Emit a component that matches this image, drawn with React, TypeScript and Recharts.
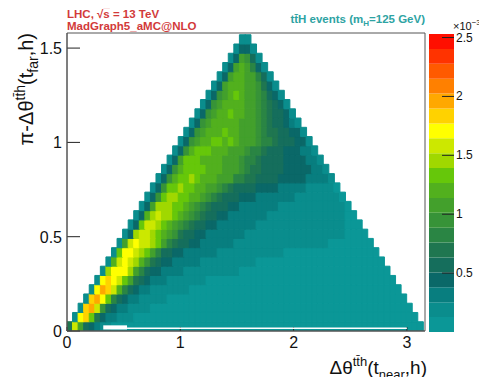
import React from 'react'
import { BarChart, Bar, Cell, XAxis, YAxis, ReferenceArea } from 'recharts'

// ROOT style colour palette, 20 contour levels, lowest first
const palette = [
  '#0b9797', '#0a8d8d', '#087e7f', '#0a6868', '#156e5c',
  '#1f7650', '#2a8544', '#379338', '#43a02c', '#52b01e',
  '#66c70a', '#a0d800', '#cce800', '#ffff00', '#ffd200',
  '#ffa800', '#ff8000', '#ff5a00', '#ff3300', '#ff0f00',
]
const levelKeys = '0123456789abcdefghij'

const zMax = 2.53 // x10^-3
const zTicks = [0.5, 1, 1.5, 2, 2.5]

const nBinsX = 64
const binWidth = Math.PI / nBinsX
const xDomain = [0, 3.16]
const yDomain = [0, 1.58]
const xTicks = [0, 1, 2, 3]
const yTicks = [0, 0.5, 1, 1.5]

// colour level of every filled bin, top row first.
// each row starts at the bin sitting on the x = y diagonal
const binLevels = [
  '11',
  '1331',
  '138741',
  '13898631',
  '1389988641',
  '138999887531',
  '13789a98876431',
  '1378999988765431',
  '137899a99887654431',
  '13789999988876544321',
  '1378999a99888765544331',
  '137899aa9a98887665444331',
  '1379aaa9998887665444333221',
  '138aaa9999888766544443333221',
  '1379aaaa9998887655444433333221',
  '1379aaba999888665544443333322221',
  '137aabaa99' + '8876544443' + '3332222211' + '1110',
  '137abbaa99' + '8765444333' + '2222222111' + '111110',
  '138bbbaa98' + '7654443322' + '2222211111' + '11111110',
  '139bcbba98' + '7654433222' + '2222111111' + '1111111100',
  '13accba987' + '6544332222' + '2221111111' + '1111111110' + '00',
  '13bccba987' + '5443322222' + '2211111111' + '1111111111' + '0000',
  '18cdccba86' + '5443322222' + '2111111111' + '1111111100' + '000000',
  '1addcba864' + '4332222221' + '1111111111' + '1000000000' + '00000000',
  '19cdcb9754' + '3322222111' + '1111111000' + '0000000000' + '0000000000',
  '1bdddb8643' + '3222211111' + '1111100000' + '0000000000' + '0000000000' + '00',
  '1dedca8543' + '2221111111' + '0000000000' + '0000000000' + '0000000000' + '0000',
  '1dfec96432' + '2111111100' + '0000000000' + '0000000000' + '0000000000' + '000000',
  '1efda64322' + '1111100000' + '0000000000' + '0000000000' + '0000000000' + '00000000',
  '1efc743221' + '1110000000' + '0000000000' + '0000000000' + '0000000000' + '0000000000',
  '1dea532211' + '1000000000' + '0000000000' + '0000000000' + '0000000000' + '0000000000' + '00',
  '5c84321100' + '0000000000' + '0000000000' + '0000000000' + '0000000000' + '0000000000' + '0000',
]

// empty bins close to the x axis (white strip)
const emptyStrips = [
  { x1: 0.32, x2: 0.53, y1: 0.008, y2: 0.03 },
  { x1: 0.53, x2: 3.0, y1: 0.01, y2: 0.018 },
]

const nRows = binLevels.length

const levelOf = (r: number, c: number): number | null => {
  const row = binLevels[nRows - 1 - r]
  if (c < r) return null
  const ch = row[c - r]
  if (!ch) return null
  return levelKeys.indexOf(ch)
}

const columns = Array.from({ length: nBinsX }, (_, c) => {
  const col: Record<string, number | null> = { x: (c + 0.5) * binWidth }
  for (let r = 0; r < nRows; r++) col[`r${r}`] = levelOf(r, c) === null ? null : binWidth
  return col
})

const colorBarData = [
  palette.reduce((acc: Record<string, any>, _, k) => {
    acc[`z${k}`] = zMax / palette.length
    return acc
  }, { name: 'z' }),
]

const axisColor = '#555'
const red = '#d23a3a'
const teal = '#2ea3a3'

const XTick = (p: any) => (
  <g>
    <line x1={p.x} x2={p.x} y1={p.y} y2={p.y - 4} stroke="#222" />
    <text x={p.x} y={p.y + 17} textAnchor="middle" fontSize={16} fill="#111">
      {p.payload.value}
    </text>
  </g>
)

const YTick = (p: any) => (
  <g>
    <line x1={p.x} x2={p.x + 13} y1={p.y} y2={p.y} stroke="#222" />
    <text x={p.x - 5} y={p.y + 6} textAnchor="end" fontSize={16} fill="#111">
      {p.payload.value}
    </text>
  </g>
)

const ZTick = (p: any) => (
  <g>
    <line x1={p.x - 12} x2={p.x} y1={p.y} y2={p.y} stroke="#222" />
    <text x={p.x + 2} y={p.y + 4} fontSize={12} fill="#111">
      {p.payload.value}
    </text>
  </g>
)

export default function App() {
  return (
    <div
      style={{
        position: 'relative',
        width: 471,
        height: 369,
        fontFamily: "'Liberation Sans', Arial, Helvetica, sans-serif",
      }}
    >
      <BarChart
        width={471}
        height={369}
        data={columns}
        margin={{ top: 25, right: 54, bottom: 0, left: 0 }}
        barCategoryGap={0}
        barGap={0}
      >
        <XAxis
          dataKey="x"
          type="number"
          domain={xDomain}
          ticks={xTicks}
          interval={0}
          allowDataOverflow
          height={46}
          tickLine={false}
          tickSize={0}
          tickMargin={0}
          tick={<XTick />}
          axisLine={{ stroke: axisColor }}
        />
        <YAxis
          type="number"
          domain={yDomain}
          ticks={yTicks}
          interval={0}
          allowDataOverflow
          width={59}
          tickLine={false}
          tickSize={0}
          tickMargin={0}
          tick={<YTick />}
          axisLine={{ stroke: axisColor }}
        />
        {Array.from({ length: nRows }, (_, r) => (
          <Bar key={r} dataKey={`r${r}`} stackId="h" isAnimationActive={false}>
            {columns.map((_, c) => {
              const lv = levelOf(r, c)
              const color = lv === null ? 'none' : palette[lv]
              return <Cell key={c} fill={color} stroke={color} strokeWidth={1} />
            })}
          </Bar>
        ))}
        {emptyStrips.map((s, i) => (
          <ReferenceArea
            key={i}
            x1={s.x1}
            x2={s.x2}
            y1={s.y1}
            y2={s.y2}
            fill="#fff"
            fillOpacity={1}
            stroke="none"
            zIndex={2000}
          />
        ))}
        <ReferenceArea
          x1={xDomain[0]}
          x2={xDomain[1]}
          y1={yDomain[0]}
          y2={yDomain[1]}
          fill="none"
          stroke={axisColor}
          zIndex={2000}
        />
      </BarChart>

      <div style={{ position: 'absolute', left: 421, top: 0 }}>
        <BarChart
          width={60}
          height={369}
          data={colorBarData}
          margin={{ top: 26, right: 0, bottom: 45, left: 0 }}
          barCategoryGap={0}
        >
          <XAxis dataKey="name" hide />
          <YAxis
            orientation="right"
            type="number"
            domain={[0, zMax]}
            ticks={zTicks}
            interval={0}
            allowDataOverflow
            width={35}
            tickLine={false}
            tickSize={0}
            tickMargin={0}
            axisLine={false}
            tick={<ZTick />}
          />
          {palette.map((color, k) => (
            <Bar key={k} dataKey={`z${k}`} stackId="z" fill={color} isAnimationActive={false} />
          ))}
        </BarChart>
      </div>

      <svg
        width={471}
        height={369}
        style={{ position: 'absolute', left: 0, top: 0, pointerEvents: 'none', overflow: 'visible' }}
      >
        <text x={59} y={10} fontSize={11.5} fontWeight="bold" fill={red}>
          LHC,{'  '}√<tspan style={{ textDecoration: 'overline' }}>s</tspan> = 13 TeV
        </text>
        <text x={59} y={22} fontSize={11.5} fontWeight="bold" fill={red}>
          MadGraph5_aMC@NLO
        </text>
        <text x={417} y={15} textAnchor="end" fontSize={11.5} fontWeight="bold" fill={teal}>
          tt̄H events (m<tspan dy={3} fontSize={8}>H</tspan>
          <tspan dy={-3}>=125 GeV)</tspan>
        </text>
        <text x={445} y={22} fontSize={11} fill="#111">
          ×10<tspan dy={-5} fontSize={8}>−3</tspan>
        </text>
        <text x={419} y={366} textAnchor="end" fontSize={19} fill="#111">
          Δθ<tspan dy={-8} fontSize={13}>tt̄h</tspan>
          <tspan dy={8}>(t</tspan>
          <tspan dy={5} fontSize={13}>near</tspan>
          <tspan dy={-5}>,h)</tspan>
        </text>
        <text transform="translate(25,25) rotate(-90)" textAnchor="end" fontSize={20} fill="#111">
          π-Δθ<tspan dy={-8} fontSize={14}>tt̄h</tspan>
          <tspan dy={8}>(t</tspan>
          <tspan dy={5} fontSize={14}>far</tspan>
          <tspan dy={-5}>,h)</tspan>
        </text>
      </svg>
    </div>
  )
}
